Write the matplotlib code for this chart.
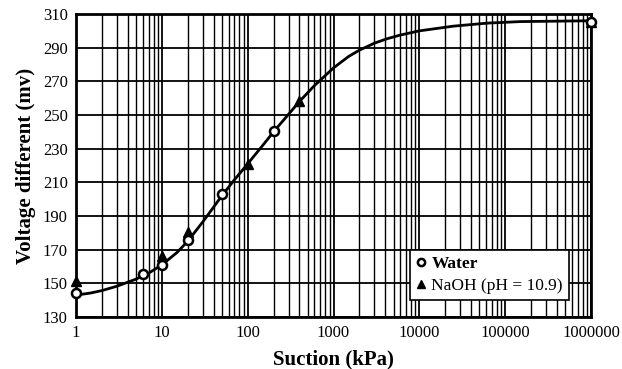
import matplotlib
matplotlib.use("Agg")
import matplotlib.pyplot as plt
from matplotlib.ticker import FixedLocator, NullFormatter, LogLocator

plt.rcParams['font.family'] = ['Liberation Serif', 'DejaVu Serif']

# Water (open circles)
water_x = [1, 6, 10, 20, 50, 200, 1000000]
water_y = [144.5, 155.5, 161, 176, 203, 240.5, 305]

# NaOH (pH = 10.9) (filled triangles)
naoh_x = [1, 10, 20, 100, 400, 1000000]
naoh_y = [151.5, 166, 180.5, 221, 258.5, 305.5]

# fitted curve
curve_x = [1, 1.5, 2, 3, 5, 7, 10, 15, 20, 30, 50, 70, 100, 150, 200, 300, 400,
           600, 1000, 1500, 2000, 3000, 4200, 6000, 10000, 25000, 62000,
           150000, 1000000]
curve_y = [143, 144.3, 145.7, 148.3, 152.5, 156, 161, 168.3, 175, 186.5, 202,
           211.5, 221, 232, 240, 250.5, 258, 267.5, 278, 284.8, 288.5, 292.7,
           295.3, 297.5, 300, 302.8, 304.6, 305.5, 306]

x_ticks = [1, 10, 100, 1000, 10000, 100000, 1000000]
x_tick_labels = ['1', '10', '100', '1000', '10000', '100000', '1000000']
y_ticks = [130, 150, 170, 190, 210, 230, 250, 270, 290, 310]

fig = plt.figure(figsize=(6.22, 3.69), dpi=100)
ax = fig.add_axes([0.1222, 0.1409, 0.8280, 0.8211])

ax.set_xscale('log')
ax.set_xlim(1, 1000000)
ax.set_ylim(130, 310)

ax.xaxis.set_major_locator(FixedLocator(x_ticks))
ax.set_xticklabels(x_tick_labels)
ax.xaxis.set_minor_locator(LogLocator(base=10, subs=range(2, 10), numticks=20))
ax.xaxis.set_minor_formatter(NullFormatter())
ax.set_yticks(y_ticks)

ax.grid(which='major', axis='both', color='black', linewidth=1.3)
ax.grid(which='minor', axis='x', color='black', linewidth=1.0)
ax.set_axisbelow(True)
ax.tick_params(which='both', length=0, labelsize=12, pad=6)

for s in ax.spines.values():
    s.set_linewidth(2)

ax.plot(curve_x, curve_y, color='black', linewidth=2, zorder=3, clip_on=False,
        solid_joinstyle='round')
ax.plot(naoh_x, naoh_y, linestyle='none', marker='^', markersize=7.5,
        color='black', zorder=4, clip_on=False, label='NaOH (pH = 10.9)')
ax.plot(water_x, water_y, linestyle='none', marker='o', markersize=6.5,
        markerfacecolor='white', markeredgecolor='black', markeredgewidth=1.8,
        zorder=5, clip_on=False, label='Water')

handles, labels = ax.get_legend_handles_labels()
leg = ax.legend(handles[::-1], labels[::-1], loc='lower right',
                bbox_to_anchor=(0.957, 0.055), frameon=True, fancybox=False,
                edgecolor='black', framealpha=1, fontsize=12.5,
                handlelength=0.5, handletextpad=0.35, borderpad=0.35,
                labelspacing=0.35, markerscale=0.8, borderaxespad=0)
leg.get_frame().set_linewidth(1.2)
leg.get_texts()[0].set_fontweight('bold')

ax.set_xlabel('Suction (kPa)', fontsize=15, fontweight='bold', labelpad=6)
ax.set_ylabel('Voltage different (mv)', fontsize=15, fontweight='bold', labelpad=5)

fig.savefig('out.png', dpi=100)
